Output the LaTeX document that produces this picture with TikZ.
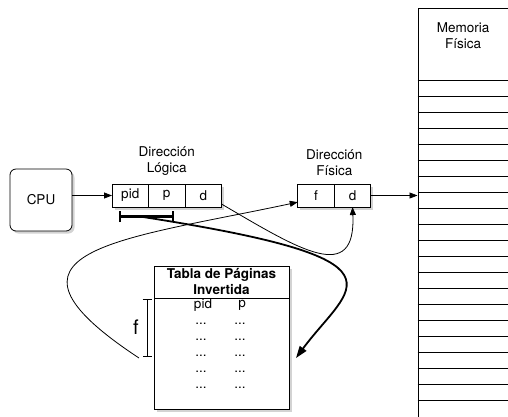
\documentclass[tikz,border=0pt]{standalone}
\usepackage{fontspec}
\setmainfont{TeX Gyre Heros}
\usetikzlibrary{positioning,arrows.meta,shadows}

\tikzset{
  every node/.append style={font=\fontsize{13.5pt}{16pt}\selectfont},
  caja/.style={draw, fill=white, line width=0.8pt,
    drop shadow={shadow xshift=2.5pt, shadow yshift=-2.5pt, opacity=0.35}},
  celda/.style={caja, minimum width=36.5pt, minimum height=23pt, inner sep=0pt, outer sep=0pt},
  etiqueta/.style={align=center, inner sep=0pt},
  flecha/.style={-{Triangle[length=8pt,width=6pt]}, line width=0.8pt},
  flechagruesa/.style={-{Triangle[length=12pt,width=8pt]}, line width=1.8pt},
}

\begin{document}
\begin{tikzpicture}[x=1pt, y=-1pt]
    \useasboundingbox (0,0) rectangle (508,416);

    % CPU
    \node[caja, rounded corners=6pt, minimum width=62pt, minimum height=62pt] (cpu) at (41,200) {CPU};

    % Dirección lógica
    \node[celda] (lpid) at (130.25,195.5) {pid};
    \node[celda, right=0pt of lpid] (lp) {p};
    \node[celda, right=0pt of lp] (ld) {d};
    \node[etiqueta, above=8pt of lp] (tlog) {Dirección\\Lógica};

    % Dirección física
    \node[celda] (pf) at (316,195.5) {f};
    \node[celda, right=0pt of pf] (pd) {d};
    \node[etiqueta, above=8pt of pf.north east] (tfis) {Dirección\\Física};

    % Memoria física
    \node[caja, minimum width=110pt, minimum height=430pt, anchor=north west] (mem) at (417.5,8) {};
    \node[etiqueta] (tmem) at (463,36) {Memoria\\Física};
    \foreach \y in {80,96,...,400}
        \draw[line width=0.8pt] (417.5,\y) -- (510,\y);

    % Tabla de páginas invertida
    \node[caja, minimum width=135pt, minimum height=143pt, anchor=north west] (tabla) at (154,266) {};
    \node[etiqueta, font=\fontsize{13.5pt}{16pt}\selectfont\bfseries] (titulo) at (221.5,281) {Tabla de Páginas\\Invertida};
    \coordinate (cab) at (0,298);
    \draw[line width=0.8pt] (tabla.west |- cab) -- (tabla.east |- cab);
    \node (cpid) at (203,305) {pid};
    \node (cpag) at (242,305) {p};
    \foreach \y in {324,340,356,372,388} {
        \node at (201,\y) {...};
        \node at (240,\y) {...};
    }

    % Marco f
    \coordinate (fa) at (147,299);
    \coordinate (fb) at (147,357);
    \draw[{Bar[width=9pt]}-{Bar[width=9pt]}, line width=0.8pt] (fa) -- (fb);
    \node[font=\fontsize{20pt}{22pt}\selectfont] (ef) at (136,327) {f};

    % Corchete pid, p
    \coordinate (bi) at (119,216.5);
    \coordinate (bf) at (174,216.5);
    \coordinate (bm) at (140,216.5);
    \draw[{Bar[width=11pt]}-{Bar[width=11pt]}, line width=2.2pt] (bi) -- (bf);

    % Flechas
    \coordinate (lazo) at (139,358);
    \coordinate (busca) at (296,358);
    \draw[flecha] (cpu.east |- lpid) -- (lpid.west);
    \draw[flecha] (pd.east) -- (pd.east -| mem.west);
    \draw[flecha] (ld.-25) .. controls (300,250) and (356,285) .. (pd.south);
    \draw[flecha] (lazo) .. controls (-25,250) and (120,240) .. (pf.200);
    \draw[flechagruesa] (bm) .. controls (420,260) and (350,285) .. (busca);
\end{tikzpicture}
\end{document}
